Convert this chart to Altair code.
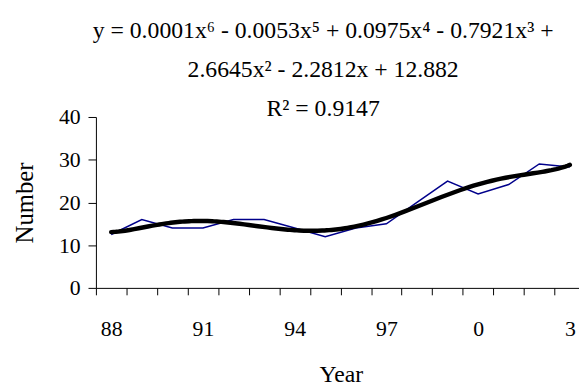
import json
import altair as alt
import pandas as pd

# ---- data ----
years = ["88", "89", "90", "91", "92", "93", "94", "95", "96", "97",
         "98", "99", "0", "1", "2", "3"]
numbers = [12.5, 16, 14, 14, 16, 16, 14, 12, 14, 15,
           20, 25, 22, 24.2, 29, 28.3]
tick_labels = ["88", "91", "94", "97", "0", "3"]
y_ticks = [0, 10, 20, 30, 40]
equation_lines = [
    "y = 0.0001x\u2076 - 0.0053x\u2075 + 0.0975x\u2074 - 0.7921x\u00b3 +",
    "2.6645x\u00b2 - 2.2812x + 12.882",
    "R\u00b2 = 0.9147",
]

df = pd.DataFrame({
    "idx": list(range(1, len(years) + 1)),
    "year": years,
    "value": numbers,
})

FONT = "Liberation Serif"
tick_positions = [i + 0.5 for i in range(len(years))]
label_expr = (
    f"(datum.value - 0.5) % 3 === 0 ? "
    f"{json.dumps(tick_labels)}[(datum.value - 0.5) / 3] : ''"
)

x_enc = alt.X(
    "idx:Q",
    scale=alt.Scale(domain=[0.5, 16.3], nice=False, zero=False),
    axis=alt.Axis(
        title="Year", values=tick_positions, tickCount=40, labelExpr=label_expr,
        labelOffset=15.5, labelFlush=False, labelOverlap=False, labelBound=False,
        grid=False, tickSize=7, labelPadding=24, labelFontSize=22,
        labelFont=FONT, labelColor="black", titleFont=FONT, titleFontSize=24,
        titleFontWeight="normal", titleColor="black", titleBaseline="alphabetic",
        titleY=95, titleX=248, domainColor="black", tickColor="black",
    ),
)
y_enc = alt.Y(
    "value:Q",
    scale=alt.Scale(domain=[0, 40], nice=False),
    axis=alt.Axis(
        title="Number", values=y_ticks, grid=False, tickSize=8, labelPadding=8,
        labelFontSize=22, labelFont=FONT, labelColor="black",
        titleFont=FONT, titleFontSize=25, titleFontWeight="normal",
        titleColor="black", titleBaseline="alphabetic", titleX=-64,
        domainColor="black", tickColor="black",
    ),
)

base = alt.Chart(df)

data_line = base.mark_line(color="#00008B", strokeWidth=1.5).encode(x=x_enc, y=y_enc)

trend = base.transform_regression(
    "idx", "value", method="poly", order=6
).mark_line(color="black", strokeWidth=4.5, strokeCap="round").encode(
    x="idx:Q", y="value:Q"
)

eq_layers = []
eq_baselines = [-80, -40.5, -0.5]
for line, yb in zip(equation_lines, eq_baselines):
    eq_layers.append(
        alt.Chart(pd.DataFrame({"t": [line]})).mark_text(
            font=FONT, fontSize=24, color="black", align="center",
            baseline="alphabetic",
        ).encode(text="t:N", x=alt.value(230), y=alt.value(yb))
    )

chart = alt.layer(data_line, trend, *eq_layers).properties(
    width=489, height=173,
    autosize=alt.AutoSizeParams(type="none"),
    padding={"left": 89, "top": 108, "right": 0, "bottom": 98},
    background="white",
).configure_view(stroke=None)

chart.save("out.html", embed_options={"renderer": "svg", "actions": False})
